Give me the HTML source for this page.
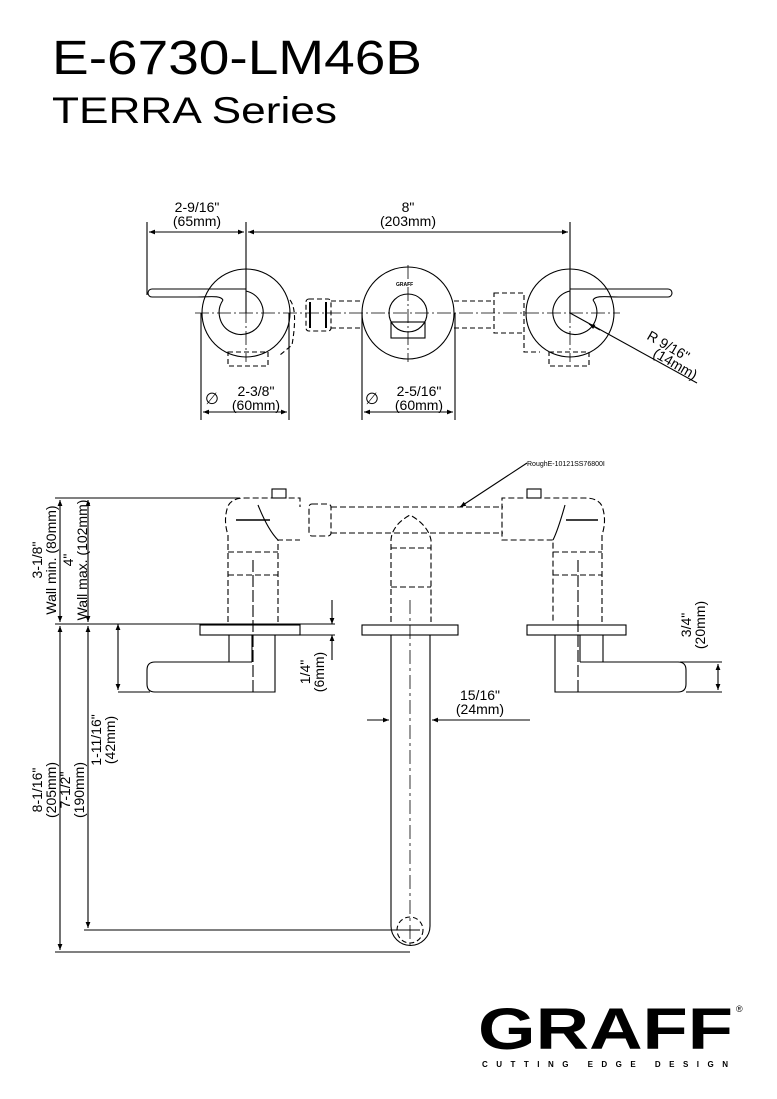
<!DOCTYPE html>
<html><head><meta charset="utf-8"><style>
html,body{margin:0;padding:0;background:#fff;}
svg{display:block;font-family:"Liberation Sans",Arial,sans-serif;}
</style></head><body>
<svg width="777" height="1099" viewBox="0 0 777 1099" xmlns="http://www.w3.org/2000/svg">
<defs>
<marker id="a" viewBox="0 0 10 10" refX="10" refY="5" markerWidth="9" markerHeight="6" orient="auto-start-reverse" markerUnits="userSpaceOnUse"><path d="M0,1 L10,5 L0,9z" fill="#000"/></marker>
</defs>
<rect width="777" height="1099" fill="#fff"/>
<text x="52" y="74" font-size="48" fill="#000" textLength="370" lengthAdjust="spacingAndGlyphs">E-6730-LM46B</text>
<text x="52" y="123" font-size="37" fill="#000" textLength="285" lengthAdjust="spacingAndGlyphs">TERRA Series</text>

<g stroke="#000" fill="none" stroke-width="1.1">
<!-- TOP VIEW -->
<line x1="147" y1="222" x2="147" y2="295"/>
<line x1="246" y1="222" x2="246" y2="313"/>
<line x1="570" y1="222" x2="570" y2="313"/>
<line x1="149" y1="232" x2="244" y2="232" marker-start="url(#a)" marker-end="url(#a)"/>
<line x1="248" y1="232" x2="568" y2="232" marker-start="url(#a)" marker-end="url(#a)"/>
<line x1="195" y1="313" x2="620" y2="313" stroke-dasharray="14,3,2,3" stroke-width="0.8"/>
<line x1="246" y1="265" x2="246" y2="362" stroke-dasharray="14,3,2,3" stroke-width="0.8"/>
<line x1="408" y1="265" x2="408" y2="362" stroke-dasharray="14,3,2,3" stroke-width="0.8"/>
<line x1="570" y1="265" x2="570" y2="362" stroke-dasharray="14,3,2,3" stroke-width="0.8"/>
<circle cx="246" cy="313" r="44"/>
<path d="M223,300 A22,22 0 1,0 246,291"/>
<path d="M223,300 C220,295 210,297 195,297 L152,297 A4,4 0 0 1 152,289 L246,289"/>
<circle cx="570" cy="313" r="44"/>
<path d="M593,300 A22,22 0 1,1 570,291"/>
<path d="M593,300 C596,295 606,297 621,297 L668,297 A4,4 0 0 0 668,289 L570,289"/>
<circle cx="408" cy="313" r="46"/>
<circle cx="408" cy="313" r="19"/>
<rect x="391" y="322" width="34" height="16"/>
<text x="396" y="286" font-size="5" fill="#000" stroke="none" font-weight="bold">GRAFF</text>
<g stroke-dasharray="5,3">
<rect x="306" y="299" width="25" height="32" rx="3"/>
<line x1="331" y1="301" x2="362" y2="301"/><line x1="331" y1="328" x2="362" y2="328"/>
<line x1="454" y1="301" x2="494" y2="301"/><line x1="454" y1="328" x2="494" y2="328"/>
<rect x="494" y="293" width="30" height="40"/>
<path d="M290,300 Q298,310 292,345 L280,355"/>
<rect x="228" y="352" width="40" height="14"/>
<rect x="549" y="352" width="40" height="14"/>
<path d="M524,335 L524,352 L540,352"/>
</g>
<line x1="310" y1="302" x2="310" y2="328" stroke-width="2"/><line x1="326" y1="302" x2="326" y2="328" stroke-width="2"/>
<line x1="570" y1="313" x2="697" y2="383"/>
<line x1="600" y1="330" x2="589" y2="324" marker-end="url(#a)"/>
<line x1="201" y1="313" x2="201" y2="420"/><line x1="289" y1="313" x2="289" y2="420"/>
<line x1="203" y1="412" x2="287" y2="412" marker-start="url(#a)" marker-end="url(#a)"/>
<line x1="362" y1="313" x2="362" y2="420"/><line x1="455" y1="313" x2="455" y2="420"/>
<line x1="364" y1="412" x2="453" y2="412" marker-start="url(#a)" marker-end="url(#a)"/>
</g>
<g font-size="14" fill="#000" text-anchor="middle">
<text x="197" y="212">2-9/16"</text><text x="197" y="226">(65mm)</text>
<text x="408" y="212">8"</text><text x="408" y="226">(203mm)</text>
<text x="256" y="396">2-3/8"</text><text x="256" y="410">(60mm)</text>
<text x="419" y="396">2-5/16"</text><text x="419" y="410">(60mm)</text>
<text x="212" y="404" font-size="16">∅</text><text x="372" y="404" font-size="16">∅</text>
<text transform="translate(666,350) rotate(30)" font-size="14">R   9/16"</text>
<text transform="translate(666,364) rotate(30)" font-size="14" dx="8">(14mm)</text>
</g>

<!-- SIDE VIEW -->
<g stroke="#000" fill="none" stroke-width="1.1">
<line x1="55" y1="498" x2="240" y2="498"/>
<line x1="55" y1="624" x2="335" y2="624"/>
<line x1="60" y1="500" x2="60" y2="622" marker-start="url(#a)" marker-end="url(#a)"/>
<line x1="88" y1="500" x2="88" y2="622" marker-start="url(#a)" marker-end="url(#a)"/>
<rect x="200" y="625" width="100" height="10"/>
<line x1="300" y1="635" x2="335" y2="635"/>
<rect x="362" y="625" width="96" height="10"/>
<rect x="527" y="625" width="99" height="10"/>
<g stroke-dasharray="6,3">
<path d="M228,622 L228,535 Q223,520 228,506 Q232,498 245,498 L300,498 L300,507"/>
<path d="M278,622 L278,540 L300,540"/>
<line x1="228" y1="552" x2="278" y2="552"/><line x1="228" y1="575" x2="278" y2="575"/>
<rect x="309" y="504" width="22" height="32" rx="3"/>
<line x1="331" y1="507" x2="503" y2="507"/><line x1="331" y1="533" x2="503" y2="533"/>
<path d="M602,622 L602,535 Q607,520 602,506 Q598,498 585,498 L502,498 L502,540 L553,540 L553,622"/>
<line x1="553" y1="552" x2="602" y2="552"/><line x1="553" y1="575" x2="602" y2="575"/>
<path d="M391,622 L391,540 Q392,525 410,515 Q428,525 431,540 L431,622"/>
<line x1="391" y1="548" x2="431" y2="548"/><line x1="391" y1="587" x2="431" y2="587"/>
</g>
<path d="M236,520 L270,520" stroke-width="1.5"/><path d="M258,505 Q268,530 278,540"/>
<path d="M566,520 L598,520" stroke-width="1.5"/><path d="M565,505 Q558,530 553,540"/>
<rect x="272" y="489" width="14" height="9"/><rect x="527" y="489" width="14" height="9"/>
<line x1="253" y1="560" x2="253" y2="692" stroke-dasharray="12,3"/>
<line x1="578" y1="560" x2="578" y2="692" stroke-dasharray="12,3"/>
<path d="M229,635 L229,662 M252,635 L252,662"/>
<path d="M275,635 L275,692 L155,692 Q147,692 147,684 L147,670 Q147,662 155,662 L252,662"/>
<line x1="150" y1="692" x2="118" y2="692"/>
<path d="M555,635 L555,692 L678,692 Q686,692 686,684 L686,670 Q686,662 678,662 L580,662 M580,635 L580,662 M603,635 L603,662"/>
<line x1="680" y1="662" x2="722" y2="662"/><line x1="686" y1="692" x2="722" y2="692"/>
<line x1="718" y1="664" x2="718" y2="690" marker-start="url(#a)" marker-end="url(#a)"/>
<line x1="332" y1="600" x2="332" y2="624" marker-end="url(#a)"/>
<line x1="332" y1="660" x2="332" y2="635" marker-end="url(#a)"/>
<path d="M391,635 L391,926 A19.5,19.5 0 0 0 430,926 L430,635"/>
<line x1="410" y1="600" x2="410" y2="950" stroke-dasharray="14,4,3,4" stroke-width="0.8"/>
<circle cx="410" cy="930" r="13" stroke-dasharray="5,3"/>
<line x1="367" y1="720" x2="389" y2="720" marker-end="url(#a)"/>
<line x1="530" y1="720" x2="432" y2="720" marker-end="url(#a)"/>
<line x1="118" y1="624" x2="118" y2="690" marker-start="url(#a)" marker-end="url(#a)"/>
<line x1="88" y1="626" x2="88" y2="928" marker-start="url(#a)" marker-end="url(#a)"/>
<line x1="60" y1="626" x2="60" y2="950" marker-start="url(#a)" marker-end="url(#a)"/>
<line x1="84" y1="930" x2="420" y2="930"/>
<line x1="55" y1="952" x2="410" y2="952"/>
<line x1="527" y1="463" x2="460" y2="507" marker-end="url(#a)"/>
</g>
<text x="527" y="466" font-size="7" fill="#000">RoughE-10121SS76800I</text>
<g font-size="14" fill="#000" text-anchor="middle">
<text transform="translate(42,560) rotate(-90)">3-1/8"</text>
<text transform="translate(56,560) rotate(-90)">Wall min. (80mm)</text>
<text transform="translate(73,560) rotate(-90)">4"</text>
<text transform="translate(87,560) rotate(-90)">Wall max. (102mm)</text>
<text transform="translate(310,672) rotate(-90)">1/4"</text>
<text transform="translate(324,672) rotate(-90)">(6mm)</text>
<text transform="translate(691,625) rotate(-90)">3/4"</text>
<text transform="translate(705,625) rotate(-90)">(20mm)</text>
<text x="480" y="700">15/16"</text><text x="480" y="714">(24mm)</text>
<text transform="translate(101,740) rotate(-90)">1-11/16"</text>
<text transform="translate(115,740) rotate(-90)">(42mm)</text>
<text transform="translate(70,790) rotate(-90)">7-1/2"</text>
<text transform="translate(84,790) rotate(-90)">(190mm)</text>
<text transform="translate(42,790) rotate(-90)">8-1/16"</text>
<text transform="translate(56,790) rotate(-90)">(205mm)</text>
</g>
<text x="478" y="1049" font-size="58" font-weight="bold" fill="#000" textLength="255" lengthAdjust="spacingAndGlyphs">GRAFF</text>
<text x="736" y="1012" font-size="9" fill="#000">®</text>
<text x="482" y="1067" font-size="8" font-weight="bold" fill="#000" textLength="246" lengthAdjust="spacing">CUTTING EDGE DESIGN</text>
</svg>
</body></html>
